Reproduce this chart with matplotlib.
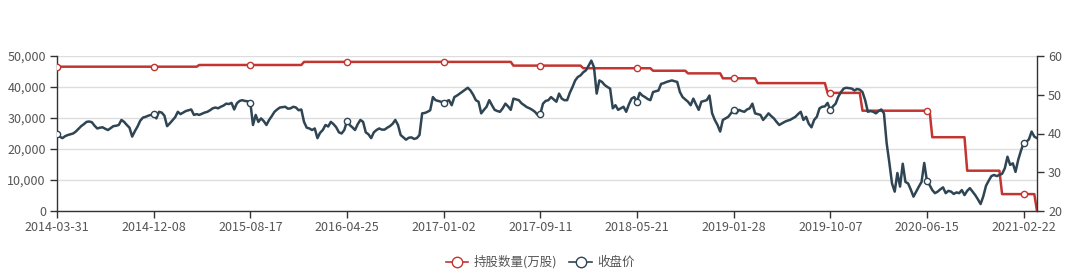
import matplotlib
matplotlib.use("Agg")
import matplotlib.pyplot as plt
from matplotlib.lines import Line2D
from matplotlib.ticker import FuncFormatter, MultipleLocator
import numpy as np
import pandas as pd

plt.rcParams['font.family'] = ['Noto Sans CJK SC', 'DejaVu Sans']

# ---- data ----
start_date = "2014-03-31"
n_weeks = 366
dates = pd.date_range(start_date, periods=n_weeks, freq="7D").strftime("%Y-%m-%d").tolist()

# 持股数量(万股), weekly
holdings = (
    [46550] * 53 + [47100] * 39 + [48100] * 78 + [46900] * 26 + [46050] * 26 +
    [45250] * 13 + [44400] * 13 + [42800] * 13 + [41250] * 26 + [38100] * 13 +
    [32350] * 26 + [23800] * 13 + [13000] * 13 + [5450] * 13 + [0]
)

# 收盘价, weekly
close = [
    40.0, 39.2, 38.8, 39.3, 39.6, 39.8, 40.0, 40.5, 41.2, 41.9,
    42.4, 43.0, 43.1, 42.9, 42.0, 41.3, 41.5, 41.6, 41.2, 40.9,
    41.4, 41.9, 42.0, 42.2, 43.5, 43.0, 42.2, 41.5, 39.2, 40.6,
    41.8, 43.3, 44.1, 44.3, 44.6, 44.8, 45.0, 43.9, 45.6, 45.4,
    44.6, 41.9, 42.6, 43.4, 44.2, 45.6, 45.0, 45.4, 45.8, 46.0,
    46.2, 44.8, 45.0, 44.8, 45.1, 45.4, 45.6, 46.0, 46.5, 46.7,
    46.5, 46.9, 47.2, 47.7, 47.6, 47.9, 46.2, 47.8, 48.4, 48.6,
    48.4, 48.3, 48.0, 42.2, 44.8, 43.0, 43.9, 43.2, 42.2, 43.5,
    44.5, 45.6, 46.2, 46.7, 46.8, 46.9, 46.4, 46.5, 46.9, 46.7,
    46.0, 46.2, 43.0, 41.5, 41.3, 40.9, 41.3, 38.8, 40.2, 40.9,
    42.2, 41.8, 43.0, 42.4, 41.6, 40.3, 40.0, 40.9, 43.2, 42.2,
    41.6, 40.9, 42.4, 43.5, 43.0, 40.3, 39.8, 38.8, 40.3, 40.9,
    41.3, 41.0, 41.0, 41.5, 41.9, 42.5, 43.5, 42.2, 39.6, 39.0,
    38.4, 38.9, 39.0, 38.6, 38.8, 39.6, 45.2, 45.3, 45.6, 46.0,
    49.4, 48.6, 48.4, 48.2, 48.0, 48.3, 48.6, 47.3, 49.4, 49.8,
    50.3, 50.8, 51.3, 51.8, 51.1, 50.0, 48.6, 48.2, 45.2, 46.1,
    46.9, 48.6, 47.3, 46.1, 45.8, 45.6, 46.5, 47.7, 47.0, 46.1,
    49.0, 48.8, 48.6, 47.8, 47.3, 46.8, 46.5, 46.1, 45.6, 44.8,
    45.0, 47.7, 48.4, 48.6, 49.4, 48.8, 48.2, 50.3, 49.0, 48.6,
    48.6, 50.5, 52.0, 53.7, 54.6, 55.0, 55.8, 56.3, 57.5, 58.8,
    57.1, 50.3, 53.7, 53.3, 52.5, 52.0, 51.6, 46.5, 47.3, 46.1,
    46.5, 46.9, 45.6, 47.5, 49.0, 49.4, 48.2, 50.5, 49.8, 49.4,
    48.9, 48.6, 50.7, 50.9, 51.1, 52.8, 53.0, 53.3, 53.5, 53.7,
    53.5, 53.3, 50.7, 49.4, 48.8, 48.2, 47.3, 49.0, 47.5, 46.1,
    48.2, 48.4, 48.6, 49.8, 45.2, 43.5, 42.2, 40.5, 43.5, 43.9,
    44.3, 45.2, 46.1, 45.2, 46.1, 45.8, 45.6, 46.2, 46.5, 47.7,
    45.2, 45.0, 44.8, 43.5, 44.3, 45.2, 44.5, 43.9, 43.0, 42.2,
    42.6, 43.0, 43.3, 43.5, 43.9, 44.3, 45.0, 45.6, 43.5, 44.3,
    42.5, 41.6, 43.5, 44.3, 46.5, 46.9, 47.0, 47.9, 46.1, 47.0,
    47.7, 49.5, 50.7, 51.6, 51.8, 51.7, 51.6, 51.1, 51.5, 51.3,
    50.7, 48.6, 45.6, 45.8, 45.6, 45.2, 45.8, 46.2, 45.2, 37.5,
    32.5, 27.1, 25.0, 29.8, 26.3, 32.2, 27.5, 27.1, 25.5, 23.7,
    25.0, 26.3, 27.5, 32.4, 27.8, 26.7, 25.4, 24.6, 25.0, 25.6,
    26.1, 24.6, 25.2, 25.0, 24.4, 24.8, 24.6, 25.4, 24.1, 25.2,
    25.9, 25.0, 24.1, 23.0, 21.8, 23.8, 26.5, 27.8, 29.0, 29.3,
    29.0, 29.3, 29.6, 31.0, 34.0, 31.9, 32.3, 30.1, 33.2, 35.5,
    37.5, 37.8, 38.5, 40.5, 39.2, 38.8,
]

series_names = ["持股数量(万股)", "收盘价"]
label_step = 36

# ---- style ----
RED = "#c23531"
DARK = "#2f4554"
TXT = "#555555"
AX = "#333333"

fig = plt.figure(figsize=(10.8, 2.76), dpi=100)
ax1 = fig.add_axes([57 / 1080, 65 / 276, 980 / 1080, 155 / 276])
ax2 = ax1.twinx()

x = np.arange(len(dates))
mark_idx = list(range(0, len(dates), label_step))

ax1.plot(x, holdings, color=RED, lw=1.8, zorder=3, solid_joinstyle="round")
ax1.plot(x[mark_idx], np.array(holdings)[mark_idx], ls="none", marker="o",
         ms=4.5, mfc="white", mec=RED, mew=1, zorder=4)
ax2.plot(x, close, color=DARK, lw=1.8, zorder=3, solid_joinstyle="round")
ax2.plot(x[mark_idx], np.array(close)[mark_idx], ls="none", marker="o",
         ms=4.5, mfc="white", mec=DARK, mew=1, zorder=4)

ax1.set_xlim(0, len(dates) - 1)
ax1.set_ylim(0, 50000)
ax2.set_ylim(20, 60)
ax1.yaxis.set_major_locator(MultipleLocator(10000))
ax2.yaxis.set_major_locator(MultipleLocator(10))
ax1.yaxis.set_major_formatter(FuncFormatter(lambda v, p: f"{int(v):,}"))
ax1.set_xticks(mark_idx)
ax1.set_xticklabels([dates[i] for i in mark_idx])

ax1.grid(axis="y", color="#dddddd", lw=1)
ax1.set_axisbelow(True)

for a in (ax1, ax2):
    a.spines["top"].set_visible(False)
    for s in ("left", "right", "bottom"):
        a.spines[s].set_color(AX)
        a.spines[s].set_linewidth(1)
    a.tick_params(colors=AX, labelcolor=TXT, labelsize=9, length=5, width=1)
ax1.spines["right"].set_visible(False)
ax2.spines["left"].set_visible(False)
ax2.spines["bottom"].set_visible(False)
ax1.tick_params(axis="x", pad=2)
ax1.tick_params(axis="y", pad=3)
ax2.tick_params(axis="y", pad=3)

handles = [
    Line2D([], [], color=RED, lw=1.2, marker="o", ms=7.5, mfc="white", mec=RED, mew=1),
    Line2D([], [], color=DARK, lw=1.2, marker="o", ms=7.5, mfc="white", mec=DARK, mew=1),
]
fig.legend(handles, series_names, loc="center", bbox_to_anchor=(0.5, 0.05), ncol=2,
           frameon=False, fontsize=9, handlelength=1.8, handletextpad=0.4,
           columnspacing=1.0, labelcolor=TXT)

fig.savefig("out.png", dpi=100, facecolor="white")
